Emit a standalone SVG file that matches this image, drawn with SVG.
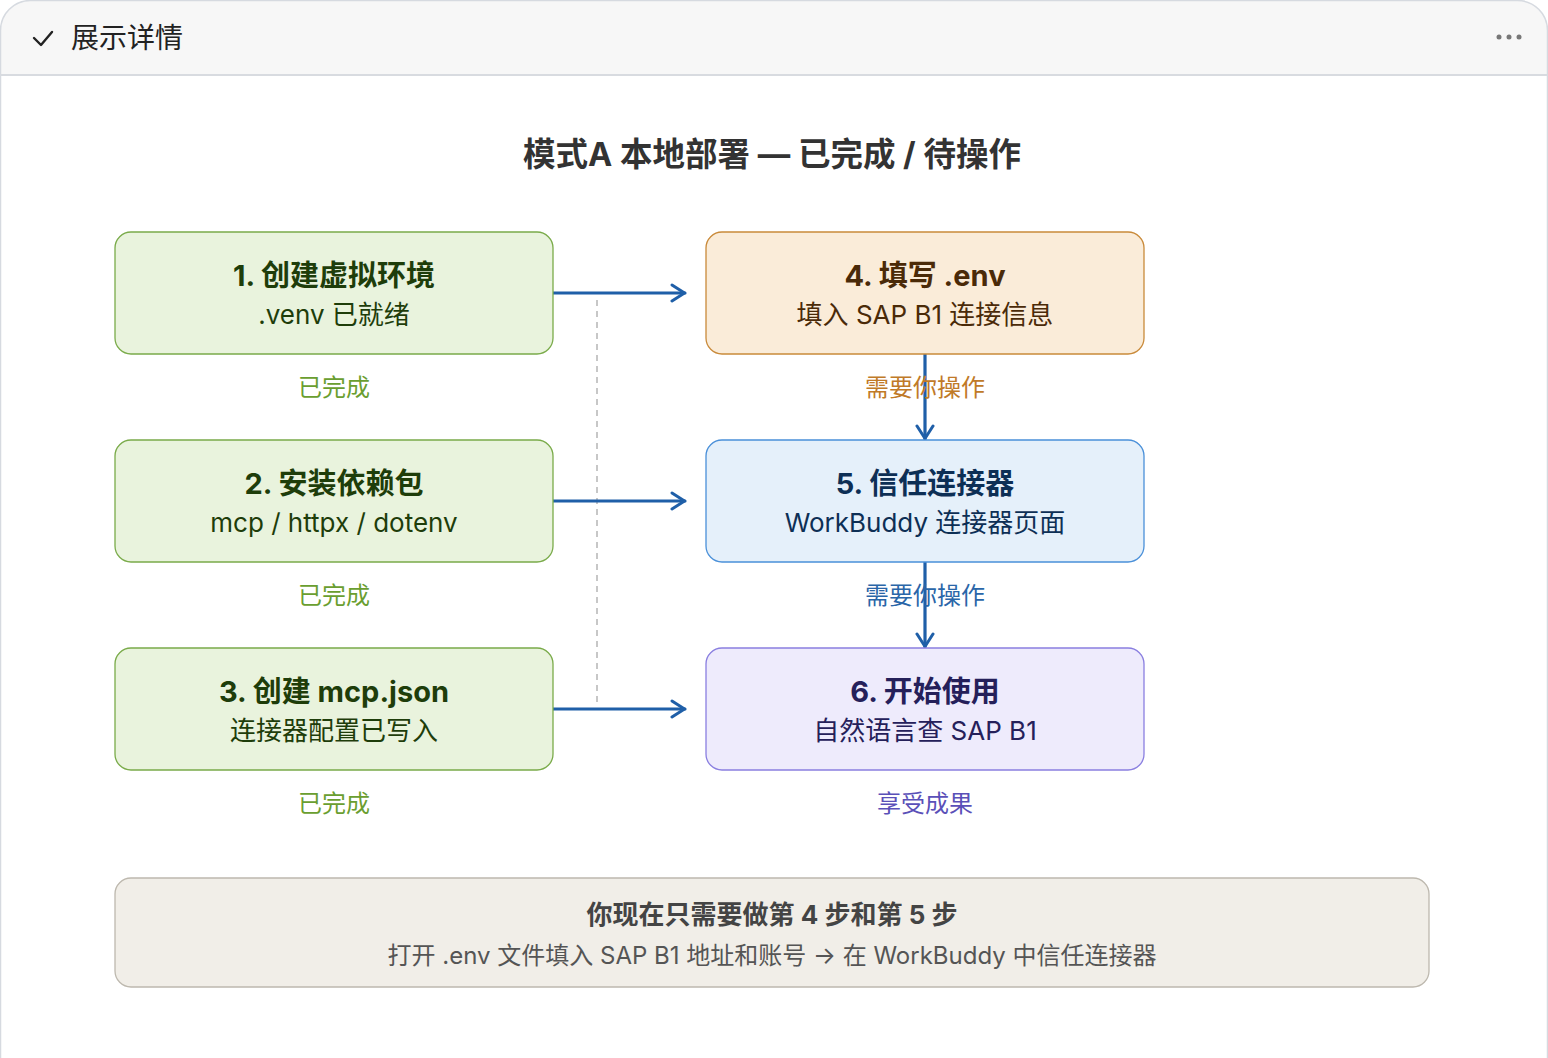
<svg xmlns="http://www.w3.org/2000/svg" width="1548" height="1058" viewBox="0 0 1548 1058">
<defs>
<style>
text{font-family:"Inter","Noto Sans CJK SC","Liberation Sans",sans-serif;text-anchor:middle}
.t{font-size:29px;font-weight:700}
.s{font-size:26px}
.l{font-size:24px}
.conn{stroke:#1f5fa8;stroke-width:3.2;fill:none;stroke-linecap:round}
.box{stroke-width:1.3}
</style>
<marker id="ah" viewBox="0 0 16 20" refX="15" refY="10" markerWidth="16" markerHeight="20" markerUnits="userSpaceOnUse" orient="auto">
<path d="M2,2 L14.5,10 L2,18" fill="none" stroke="#1f5fa8" stroke-width="3" stroke-linecap="round" stroke-linejoin="round"/>
</marker>
<clipPath id="card"><rect x="0.5" y="0.5" width="1547" height="1100" rx="30"/></clipPath>
</defs>
<rect width="1548" height="1058" fill="#ffffff"/>
<g id="frame">
<rect x="0" y="0" width="1548" height="75" fill="#f7f7f7" clip-path="url(#card)"/>
<rect x="0.5" y="0.5" width="1547" height="1100" rx="30" fill="none" stroke="#d6dae0" stroke-width="1.5"/>
<line x1="0" y1="75" x2="1548" y2="75" stroke="#d8dbe0" stroke-width="2"/>
<path d="M34,38 L41,45 L52,32" fill="none" stroke="#222" stroke-width="2.4" stroke-linecap="round" stroke-linejoin="round"/>
<text x="71" y="48" style="text-anchor:start;font-size:28px" fill="#222">展示详情</text>
<circle cx="1499" cy="37" r="2.5" fill="#777"/>
<circle cx="1509" cy="37" r="2.5" fill="#777"/>
<circle cx="1519" cy="37" r="2.5" fill="#777"/>
</g>
<text x="772" y="166" style="font-size:32.5px;font-weight:700" fill="#333">模式A 本地部署 — 已完成 / 待操作</text>
<g id="connectors">
<line x1="597" y1="300" x2="597" y2="702" stroke="#aaaaaa" stroke-width="1.3" stroke-dasharray="6 5"/>
<line class="conn" x1="553" y1="293" x2="685" y2="293" marker-end="url(#ah)"/>
<line class="conn" x1="553" y1="501" x2="685" y2="501" marker-end="url(#ah)"/>
<line class="conn" x1="553" y1="709" x2="685" y2="709" marker-end="url(#ah)"/>
<line class="conn" x1="925" y1="354" x2="925" y2="439" marker-end="url(#ah)"/>
<line class="conn" x1="925" y1="562" x2="925" y2="647" marker-end="url(#ah)"/>
</g>
<g id="n1">
<rect class="box" x="115" y="232" width="438" height="122" rx="16" fill="#e9f3dd" stroke="#7aab4a"/>
<text class="t" x="334" y="286" fill="#1e3d0a">1. 创建虚拟环境</text>
<text class="s" x="334" y="324" fill="#1e3d0a">.venv 已就绪</text>
<text class="l" x="334" y="396" fill="#6a9e30">已完成</text>
</g>
<g id="n2">
<rect class="box" x="115" y="440" width="438" height="122" rx="16" fill="#e9f3dd" stroke="#7aab4a"/>
<text class="t" x="334" y="494" fill="#1e3d0a">2. 安装依赖包</text>
<text class="s" x="334" y="532" fill="#1e3d0a">mcp / httpx / dotenv</text>
<text class="l" x="334" y="604" fill="#6a9e30">已完成</text>
</g>
<g id="n3">
<rect class="box" x="115" y="648" width="438" height="122" rx="16" fill="#e9f3dd" stroke="#7aab4a"/>
<text class="t" x="334" y="702" fill="#1e3d0a">3. 创建 mcp.json</text>
<text class="s" x="334" y="740" fill="#1e3d0a">连接器配置已写入</text>
<text class="l" x="334" y="812" fill="#6a9e30">已完成</text>
</g>
<g id="n4">
<rect class="box" x="706" y="232" width="438" height="122" rx="16" fill="#faecd9" stroke="#c98a3a"/>
<text class="t" x="925" y="286" fill="#4a2a08">4. 填写 .env</text>
<text class="s" x="925" y="324" fill="#4a2a08">填入 SAP B1 连接信息</text>
<text class="l" x="925" y="396" fill="#c07a28">需要你操作</text>
</g>
<g id="n5">
<rect class="box" x="706" y="440" width="438" height="122" rx="16" fill="#e5f0fa" stroke="#4a90d9"/>
<text class="t" x="925" y="494" fill="#0d2f55">5. 信任连接器</text>
<text class="s" x="925" y="532" fill="#0d2f55">WorkBuddy 连接器页面</text>
<text class="l" x="925" y="604" fill="#2a66a8">需要你操作</text>
</g>
<g id="n6">
<rect class="box" x="706" y="648" width="438" height="122" rx="16" fill="#eeebfc" stroke="#8a7fe0"/>
<text class="t" x="925" y="702" fill="#25205a">6. 开始使用</text>
<text class="s" x="925" y="740" fill="#25205a">自然语言查 SAP B1</text>
<text class="l" x="925" y="812" fill="#5a50b8">享受成果</text>
</g>
<g id="summary">
<rect x="115" y="878" width="1314" height="109" rx="16" fill="#f1eee8" stroke="#bdb8ae" stroke-width="1.3"/>
<text x="772" y="924" style="font-size:26px;font-weight:700" fill="#444">你现在只需要做第 4 步和第 5 步</text>
<text x="772" y="964" style="font-size:24px" fill="#555">打开 .env 文件填入 SAP B1 地址和账号 → 在 WorkBuddy 中信任连接器</text>
</g>
</svg>
